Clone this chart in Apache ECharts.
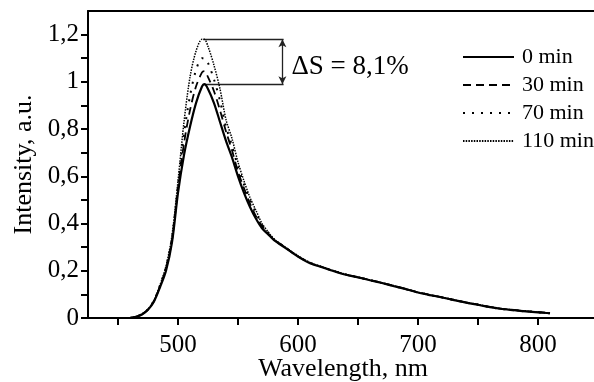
<!DOCTYPE html>
<html>
<head>
<meta charset="utf-8">
<script src="https://cdn.jsdelivr.net/npm/echarts@6/dist/echarts.min.js"></script>
<style>
html,body{margin:0;padding:0;background:#fff;}
#c{width:594px;height:382px;}
</style>
</head>
<body>
<div id="c"></div>
<script>
// Wavelength grid (nm)
const wavelengths = [460,465,470,475,480,485,490,495,500,505,510,515,520,522,525,530,535,540,545,550,555,560,565,570,575,580,590,600,610,620,630,640,650,660,670,680,690,700,710,720,730,740,750,760,770,780,790,800,810];
// Intensity (a.u.)
const min0   = [0.0,0.005,0.015,0.035,0.07,0.13,0.20,0.32,0.53,0.69,0.81,0.91,0.98,0.99,0.97,0.91,0.83,0.75,0.68,0.60,0.53,0.47,0.42,0.38,0.355,0.33,0.295,0.26,0.232,0.215,0.198,0.183,0.172,0.160,0.148,0.135,0.122,0.108,0.097,0.087,0.076,0.065,0.056,0.046,0.038,0.033,0.028,0.024,0.020];
const min30  = [0.0,0.005,0.016,0.036,0.072,0.135,0.21,0.33,0.55,0.74,0.88,0.98,1.04,1.045,1.02,0.96,0.88,0.79,0.71,0.62,0.55,0.485,0.43,0.39,0.36,0.332,0.296,0.261,0.233,0.216,0.199,0.184,0.173,0.161,0.149,0.136,0.123,0.109,0.098,0.088,0.077,0.066,0.057,0.047,0.039,0.034,0.029,0.025,0.021];
const min70  = [0.0,0.006,0.016,0.037,0.074,0.138,0.215,0.34,0.56,0.78,0.94,1.05,1.10,1.10,1.08,1.01,0.92,0.81,0.73,0.64,0.565,0.50,0.445,0.395,0.362,0.333,0.297,0.262,0.234,0.216,0.199,0.184,0.172,0.160,0.148,0.135,0.122,0.108,0.097,0.087,0.076,0.065,0.056,0.046,0.038,0.033,0.028,0.024,0.020];
const min110 = [0.0,0.006,0.017,0.038,0.075,0.14,0.22,0.35,0.58,0.83,1.02,1.13,1.18,1.18,1.15,1.07,0.97,0.84,0.76,0.66,0.58,0.51,0.455,0.40,0.365,0.335,0.298,0.263,0.235,0.217,0.200,0.185,0.173,0.161,0.149,0.136,0.123,0.109,0.098,0.088,0.077,0.066,0.057,0.047,0.039,0.034,0.029,0.025,0.021];
const seriesNames = ['0 min','30 min','70 min','110 min'];
// Tick values
const xTickValues = [450,500,550,600,650,700,750,800,850];
const xLabelValues = [500,600,700,800];
const yTickValues = [0,0.1,0.2,0.3,0.4,0.5,0.6,0.7,0.8,0.9,1.0,1.1,1.2];
const yLabelValues = [0,0.2,0.4,0.6,0.8,1.0,1.2];
// ΔS annotation
const deltaTop = 1.18, deltaBottom = 0.99;
const deltaX0 = 521, deltaX1 = 588, deltaArrowX = 587;
const deltaLabelPos = [592, 1.065];
const deltaText = 'ΔS = 8,1%';

const F = 'Liberation Serif';
const pair = a => wavelengths.map((w,i)=>[w,a[i]]);
const styles = [
  {type:'solid', width:2.2},
  {type:[8,5], width:1.8},
  {type:[2,7], width:2},
  {type:[1.5,1.2], width:1.5}
];
const datas = [min0,min30,min70,min110];

const series = datas.map((d,i)=>({
  name: seriesNames[i],
  type:'line',
  data: pair(d),
  symbol:'none',
  smooth: 0.3,
  lineStyle:{color:'#000', width:styles[i].width, type:styles[i].type},
  itemStyle:{color:'#000'},
  z: 10-i,
  animation:false
}));
series[3].markLine = {
  silent:true, animation:false,
  symbol:['none','none'],
  label:{show:false},
  lineStyle:{color:'#222', width:1.3, type:'solid'},
  data:[
    [{coord:[deltaX0,deltaTop]},{coord:[deltaX1,deltaTop]}],
    [{coord:[deltaX0,deltaBottom]},{coord:[deltaX1,deltaBottom]}],
    [{coord:[deltaArrowX,deltaBottom],symbol:'arrow',symbolSize:[6,8]},{coord:[deltaArrowX,deltaTop],symbol:'arrow',symbolSize:[6,8]}]
  ]
};
series[3].markPoint = {
  silent:true, animation:false,
  symbol:'circle', symbolSize:0,
  label:{show:true, position:'right', distance:3, formatter:deltaText, color:'#000', fontFamily:F, fontSize:27},
  data:[{coord:deltaLabelPos}]
};

const chart = echarts.init(document.getElementById('c'));
chart.setOption({
  backgroundColor:'#fff',
  animation:false,
  grid:{left:88, top:11, width:510, height:307, containLabel:false, outerBoundsMode:'none'},
  legend:{
    orient:'vertical', left:462, top:46, padding:0,
    itemWidth:51, itemHeight:14, itemGap:6,
    itemStyle:{opacity:0, borderWidth:0},
    textStyle:{fontFamily:F, fontSize:22, color:'#000', padding:[0,0,0,3]},
    data:seriesNames
  },
  xAxis:[{
    type:'value', min:425, max:850,
    name:'Wavelength, nm', nameLocation:'middle', nameGap:38, nameMoveOverlap:false,
    nameTextStyle:{fontFamily:F, fontSize:26, color:'#000'},
    axisLine:{lineStyle:{color:'#000', width:2}},
    axisTick:{show:true, inside:false, length:7, customValues:xTickValues, lineStyle:{color:'#000', width:2}},
    axisLabel:{customValues:xLabelValues, fontFamily:F, fontSize:25, color:'#000', margin:15},
    splitLine:{show:false}
  },{
    type:'value', min:425, max:850, position:'top',
    axisLine:{show:true, lineStyle:{color:'#000', width:2}},
    axisTick:{show:false}, axisLabel:{show:false}, splitLine:{show:false}
  }],
  yAxis:{
    type:'value', min:0, max:1.3,
    name:'Intensity, a.u.', nameLocation:'middle', nameGap:51, nameRotate:90, nameMoveOverlap:false,
    nameTextStyle:{fontFamily:F, fontSize:26, color:'#000'},
    axisLine:{show:true, lineStyle:{color:'#000', width:2}},
    axisTick:{show:true, inside:false, length:7, customValues:yTickValues, lineStyle:{color:'#000', width:2}},
    axisLabel:{customValues:yLabelValues, fontFamily:F, fontSize:25, color:'#000', margin:9,
      formatter: v => (Math.abs(v)<1e-9 ? '0' : Math.abs(v-1)<1e-9 ? '1' : v.toFixed(1).replace('.',','))},
    splitLine:{show:false}
  },
  series: series
});
</script>
</body>
</html>
